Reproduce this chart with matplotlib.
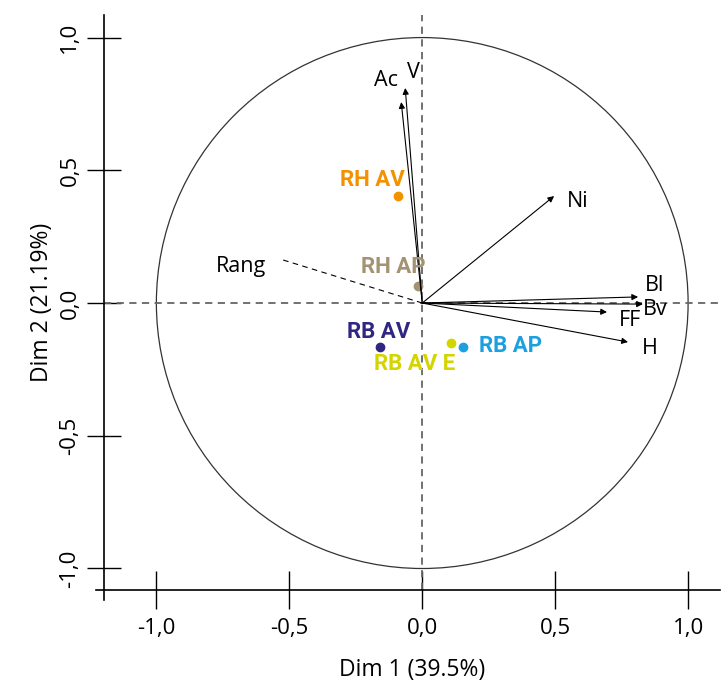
import matplotlib.pyplot as plt
from matplotlib.patches import Circle
from matplotlib.lines import Line2D

# variables (arrows) on the correlation circle
var_names = ["V", "Ac", "Ni", "Bl", "Bv", "FF", "H"]
var_x = [-0.064, -0.079, 0.496, 0.812, 0.83, 0.695, 0.774]
var_y = [0.81, 0.757, 0.403, 0.023, -0.004, -0.034, -0.147]

# supplementary variable
sup_name = "Rang"
sup_x = -0.523
sup_y = 0.162

# group centroids
grp_names = ["RH AV", "RH AP", "RB AV", "RB AV E", "RB AP"]
grp_x = [-0.09, -0.015, -0.158, 0.109, 0.154]
grp_y = [0.403, 0.064, -0.166, -0.151, -0.166]

ticks = [-1.0, -0.5, 0.0, 0.5, 1.0]
tick_labels = ["-1,0", "-0,5", "0,0", "0,5", "1,0"]

# label offsets in pixels
var_off = {"V": (8, 16), "Ac": (-15, 22), "Ni": (24, -5), "Bl": (16, 11),
           "Bv": (12, -5), "FF": (23, -8), "H": (22, -6)}
grp_off = {"RH AV": (-26, 16), "RH AP": (-25, 19), "RB AV": (-2, 15),
           "RB AV E": (-37, -21), "RB AP": (47, 1)}
grp_col = {"RH AV": "#F39200", "RH AP": "#A39373", "RB AV": "#312783",
           "RB AV E": "#D4D400", "RB AP": "#1D9FE0"}

plt.rcParams["font.family"] = ["Open Sans", "DejaVu Sans"]

fig = plt.figure(figsize=(7.22, 6.82), dpi=100)
ax = fig.add_axes([104 / 722, 92 / 682, 616 / 722, 575 / 682])
ax.set_xlim(-1.197, 1.12)
ax.set_ylim(-1.081, 1.085)

ax.add_patch(Circle((0, 0), 1, fill=False, lw=0.9, color="#333333"))
ax.axhline(0, color="#666666", lw=1.3, ls=(0, (4, 3)))
ax.axvline(0, color="#666666", lw=1.3, ls=(0, (4, 3)))

for n, x, y in zip(var_names, var_x, var_y):
    ax.annotate("", xy=(x, y), xytext=(0, 0),
                arrowprops=dict(arrowstyle="-|>", color="black", lw=0.8,
                                mutation_scale=9, shrinkA=0, shrinkB=0))
    ax.annotate(n, (x, y), xytext=var_off[n], textcoords="offset pixels",
                ha="center", va="center", fontsize=15.5)

ax.plot([0, sup_x], [0, sup_y], color="black", lw=0.8, ls=(0, (5, 4)))
ax.annotate(sup_name, (sup_x, sup_y), xytext=(-42, -6), textcoords="offset pixels",
            ha="center", va="center", fontsize=15.5)

for n, x, y in zip(grp_names, grp_x, grp_y):
    ax.plot(x, y, "o", color=grp_col[n], ms=6)
    ax.annotate(n, (x, y), xytext=grp_off[n], textcoords="offset pixels",
                ha="center", va="center", fontsize=16, fontweight="bold",
                color=grp_col[n], family=["Roboto", "DejaVu Sans"])

for s in ax.spines.values():
    s.set_visible(False)
# axis lines crossing at the corner
ax.add_line(Line2D([-0.013, 1], [0, 0], transform=ax.transAxes, color="black",
                   lw=1.2, clip_on=False))
ax.add_line(Line2D([0, 0], [-0.017, 1], transform=ax.transAxes, color="black",
                   lw=1.2, clip_on=False))

ax.set_xticks(ticks)
ax.set_xticklabels(tick_labels, fontsize=16)
ax.set_yticks(ticks)
ax.set_yticklabels(tick_labels, fontsize=16, rotation=90, va="center")
ax.tick_params(direction="inout", length=24, width=1, pad=5)
ax.tick_params(axis="x", length=28, pad=6)

ax.set_xlabel("Dim 1 (39.5%)", fontsize=16.5, labelpad=14)
ax.set_ylabel("Dim 2 (21.19%)", fontsize=16.5, labelpad=4)

plt.savefig("out.png")
